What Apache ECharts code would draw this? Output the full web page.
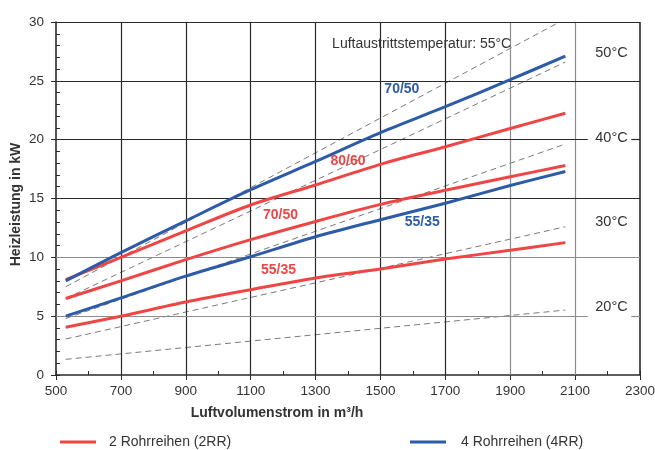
<!DOCTYPE html>
<html>
<head>
<meta charset="utf-8">
<script src="https://cdn.jsdelivr.net/npm/echarts@6/dist/echarts.min.js"></script>
<style>html,body{margin:0;padding:0;background:#fff}#c{width:655px;height:450px}</style>
</head>
<body>
<div id="c"></div>
<script>
// ---- data ----
const xTicks = [500, 700, 900, 1100, 1300, 1500, 1700, 1900, 2100, 2300];
const yTicks = [0, 5, 10, 15, 20, 25, 30];
const airflow = [530, 700, 900, 1100, 1300, 1500, 1700, 1900, 2070];
const rr2_5535 = [4.05, 5.0, 6.2, 7.25, 8.25, 9.0, 9.85, 10.6, 11.25];
const rr2_7050 = [6.5, 8.0, 9.8, 11.5, 13.05, 14.5, 15.7, 16.85, 17.8];
const rr2_8060 = [8.1, 10.0, 12.25, 14.45, 16.15, 17.9, 19.4, 20.95, 22.25];
const rr4_5535 = [5.0, 6.55, 8.4, 10.05, 11.75, 13.2, 14.6, 16.1, 17.3];
const rr4_7050 = [8.0, 10.4, 13.1, 15.75, 18.15, 20.6, 22.8, 25.1, 27.1];
// air outlet temperature lines (dashed): [airflow, kW] endpoints
const air20 = [[530, 1.33], [2070, 5.52]];
const air30 = [[530, 3.06], [2070, 12.6]];
const air40 = [[530, 4.8], [2070, 19.63]];
const air50 = [[530, 6.5], [2070, 26.6]];
const air55 = [[530, 7.5], [2052, 30]];
const seriesNames = ['2 Rohrreihen (2RR)', '4 Rohrreihen (4RR)'];
const curveLabels = ['55/35', '70/50', '80/60', '55/35', '70/50'];
const tempLabels = ['50°C', '40°C', '30°C', '20°C'];
const noteText = 'Luftaustrittstemperatur: 55°C';

// ---- layout (annotation anchors in axis units) ----
const curveLabelPos = [[1186, 8.9], [1192, 13.6], [1400, 18.2], [1629, 13.0], [1566, 24.3]];
const tempLabelPos = [[2212, 27.4], [2212, 20.1], [2212, 12.97], [2212, 5.8]];
const notePos = [1351, 28.1];

const RED = '#F04545';
const BLUE = '#2D5BA8';
const DARK = '#2a2a2a';
const GRAY = '#8c8c8c';
const TXT = '#333333';
const FONT = '"Liberation Sans", Arial, sans-serif';

const zip = (xs, ys) => xs.map((x, i) => [x, ys[i]]);
const step = a => a[1] - a[0];

const vLines = xTicks.slice(1, -1).map(v => ({
  xAxis: v, lineStyle: { color: v >= 1900 ? GRAY : DARK }
}));
vLines.push({ xAxis: xTicks[xTicks.length - 1], lineStyle: { color: DARK, width: 1.6 } });
const hLines = [];
[30, 25, 15, 10].forEach(v => hLines.push({ yAxis: v, lineStyle: { color: v <= 10 ? GRAY : DARK } }));
[[20, DARK], [5, GRAY]].forEach(([v, c]) => {
  hLines.push([{ coord: [500, v], lineStyle: { color: c } }, { coord: [2139, v] }]);
  hLines.push([{ coord: [2273, v], lineStyle: { color: c } }, { coord: [2300, v] }]);
});

const curve = (name, color, ys) => ({
  type: 'line', name, data: zip(airflow, ys), xAxisIndex: 0, yAxisIndex: 0,
  smooth: 0.3, symbol: 'none', lineStyle: { color, width: 3 }, itemStyle: { color }, z: 5
});
const dashed = d => ({
  type: 'line', data: d, xAxisIndex: 0, yAxisIndex: 0, symbol: 'none', silent: true,
  lineStyle: { color: '#7a7a7a', width: 1, type: [6, 4] }, z: 3
});
const textLayer = (pts, texts, label) => ({
  type: 'scatter', xAxisIndex: 0, yAxisIndex: 0, symbolSize: 0, silent: true, z: 6,
  itemStyle: { opacity: 1 },
  data: pts.map((p, i) => ({ value: p, label: Object.assign({ formatter: texts[i] }, label[i] || label.all) })),
  label: { show: true, opacity: 1 }
});

const chart = echarts.init(document.getElementById('c'), null, { renderer: 'canvas' });
chart.setOption({
  animation: false,
  textStyle: { fontFamily: FONT },
  grid: { left: 56, top: 22, width: 584, height: 353, containLabel: false, outerBoundsMode: 'none' },
  legend: [
    { data: [seriesNames[0]], left: 55, top: 430, icon: 'rect', itemWidth: 36, itemHeight: 3,
      textStyle: { fontFamily: FONT, fontSize: 14, color: TXT, padding: [0, 0, 0, 8] } },
    { data: [seriesNames[1]], left: 405, top: 430, icon: 'rect', itemWidth: 36, itemHeight: 3,
      textStyle: { fontFamily: FONT, fontSize: 14, color: TXT, padding: [0, 0, 0, 10] } }
  ],
  xAxis: [
    { type: 'value', min: xTicks[0], max: xTicks[xTicks.length - 1], interval: step(xTicks),
      axisLine: { show: true, onZero: false, lineStyle: { color: DARK, width: 1.6 } },
      axisTick: { show: true, length: 5, lineStyle: { color: DARK } },
      axisLabel: { fontFamily: FONT, fontSize: 13.5, color: TXT, margin: 9, formatter: v => String(v) },
      splitLine: { show: false },
      name: 'Luftvolumenstrom in m³/h', nameLocation: 'middle', nameGap: 31, nameMoveOverlap: false,
      nameTextStyle: { fontFamily: FONT, fontSize: 14, fontWeight: 'bold', color: TXT, padding: [0, 142, 0, 0] } },
    { type: 'value', position: 'bottom', min: xTicks[0], max: xTicks[xTicks.length - 1], interval: step(xTicks) / 2,
      axisLine: { show: false }, axisTick: { show: true, inside: true, length: 4, lineStyle: { color: DARK } },
      axisLabel: { show: false }, splitLine: { show: false } }
  ],
  yAxis: [
    { type: 'value', min: yTicks[0], max: yTicks[yTicks.length - 1], interval: step(yTicks),
      axisLine: { show: true, onZero: false, lineStyle: { color: DARK, width: 1.6 } },
      axisTick: { show: true, length: 5, lineStyle: { color: DARK } },
      axisLabel: { fontFamily: FONT, fontSize: 13.5, color: TXT, margin: 12, formatter: v => String(v) },
      splitLine: { show: false },
      name: 'Heizleistung in kW', nameLocation: 'middle', nameGap: 33, nameMoveOverlap: false,
      nameTextStyle: { fontFamily: FONT, fontSize: 14, fontWeight: 'bold', color: TXT, padding: [0, 12, 0, 0] } },
    { type: 'value', position: 'left', min: yTicks[0], max: yTicks[yTicks.length - 1], interval: 1,
      axisLine: { show: false }, axisTick: { show: true, inside: true, length: 4, lineStyle: { color: DARK } },
      axisLabel: { show: false }, splitLine: { show: false } }
  ],
  series: [
    { type: 'line', data: [], xAxisIndex: 0, yAxisIndex: 0, silent: true, z: 1,
      markLine: { silent: true, symbol: 'none', animation: false, label: { show: false },
        lineStyle: { type: 'solid', width: 1.2, color: DARK }, emphasis: { disabled: true },
        data: vLines.concat(hLines) } },
    dashed(air20), dashed(air30), dashed(air40), dashed(air50), dashed(air55),
    curve(seriesNames[0], RED, rr2_5535),
    curve(seriesNames[0], RED, rr2_7050),
    curve(seriesNames[0], RED, rr2_8060),
    curve(seriesNames[1], BLUE, rr4_5535),
    curve(seriesNames[1], BLUE, rr4_7050),
    textLayer(curveLabelPos, curveLabels, [
      { color: RED }, { color: RED }, { color: RED }, { color: BLUE }, { color: BLUE }
    ].map(o => Object.assign({ position: 'inside', fontFamily: FONT, fontSize: 14, fontWeight: 'bold' }, o))),
    textLayer(tempLabelPos, tempLabels, { all: { position: 'inside', fontFamily: FONT, fontSize: 14.5, color: TXT } }),
    textLayer([notePos], [noteText], { all: { position: 'right', distance: 0, fontFamily: FONT, fontSize: 14, color: TXT } })
  ]
});
</script>
</body>
</html>
